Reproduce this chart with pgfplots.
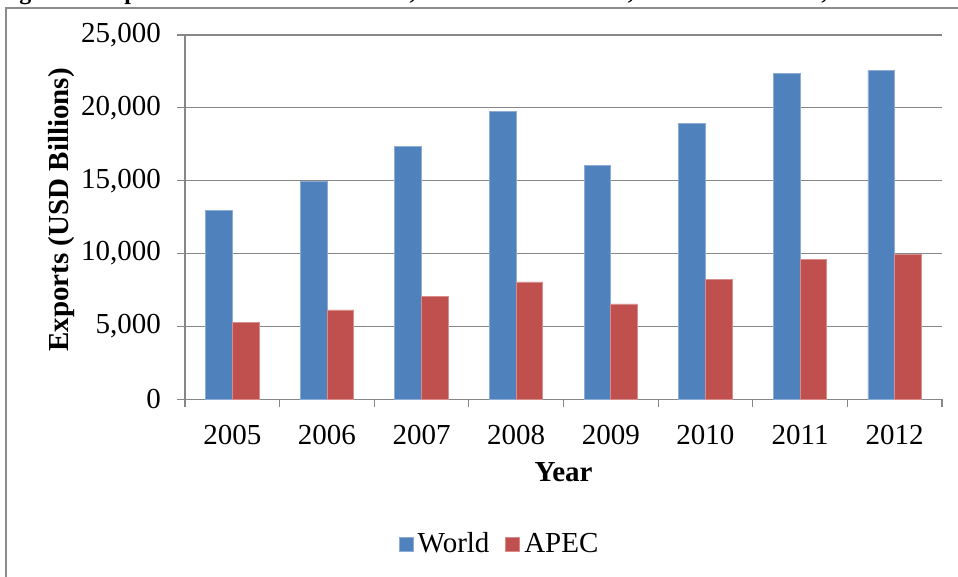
\documentclass[border=0pt]{standalone}
\usepackage{fontspec}
\setmainfont{Liberation Serif}
\usepackage{pgfplots}
\pgfplotsset{compat=1.18}
\definecolor{wblue}{HTML}{4F81BD}
\definecolor{ared}{HTML}{C0504D}
\definecolor{gridgray}{HTML}{878787}
\definecolor{framegray}{HTML}{8C8C8C}
\begin{document}
\begin{tikzpicture}
\useasboundingbox (0,0) rectangle (479pt,288.5pt);
\begin{scope}
\clip (0,0) rectangle (479pt,288.5pt);
\node[anchor=base east, font=\fontsize{12}{14}\selectfont\bfseries, inner sep=0] at (46pt,288.6pt) {Figure 1:};
\node[anchor=base west, font=\fontsize{12}{14}\selectfont\bfseries, inner sep=0] at (48pt,288.6pt) {Exports of Goods and Services, Current Prices USD, World and APEC, 2005--2012};
\end{scope}
\draw[framegray, line width=1pt] (3pt,0) -- (3pt,284.5pt) -- (479pt,284.5pt);
\begin{axis}[
  at={(92.5pt,88.85pt)}, anchor=south west,
  scale only axis, width=378.5pt, height=182.15pt,
  xmin=-0.5, xmax=7.5, ymin=0, ymax=25000,
  axis x line*=bottom, axis y line*=left,
  axis line style={gridgray, line width=0.6pt, -},
  xtick={-0.5,0.5,...,7.5},
  xticklabels={2005,2006,2007,2008,2009,2010,2011,2012,{}},
  ytick={0,5000,...,25000},
  scaled y ticks=false,
  ymajorgrids, grid style={gridgray, line width=0.6pt},
  tick align=outside,
  major tick length=4pt,
  tick style={gridgray, line width=0.6pt},
  ticklabel style={font=\fontsize{14.5}{17}\selectfont},
  xticklabel style={yshift=-5.5pt, xshift=23.66pt},
  yticklabel style={xshift=-4.5pt, /pgf/number format/fixed, /pgf/number format/1000 sep={,}},
  /pgf/number format/.cd, 1000 sep={,}, assume math mode=true,
  /pgfplots/.cd,
  xlabel={Year},
  xlabel style={font=\fontsize{14.5}{17}\selectfont\bfseries, at={(axis description cs:0.5,-0.1996)}, anchor=center},
  ylabel={Exports (USD Billions)},
  ylabel style={font=\fontsize{14.5}{17}\selectfont\bfseries, at={(axis description cs:-0.1625,0.52)}, anchor=center},
  legend columns=2,
  legend style={at={(0.417,-0.397)}, anchor=center, draw=none, fill=none,
    font=\fontsize{14.5}{17}\selectfont,
    /tikz/every even column/.append style={column sep=6pt}},
  legend image code/.code={\fill[#1] (0pt,-3.5pt) rectangle (7pt,3.5pt);},
]
\addplot[ybar, bar width=0.282, bar shift=-0.141, fill=wblue, draw=wblue!65!white, line width=0.4pt]
  coordinates {(0,12970) (1,14940) (2,17360) (3,19740) (4,16040) (5,18950) (6,22390) (7,22550)};
\addlegendentry{World}
\addplot[ybar, bar width=0.282, bar shift=0.141, fill=ared, draw=ared!65!white, line width=0.4pt]
  coordinates {(0,5300) (1,6130) (2,7070) (3,8050) (4,6540) (5,8220) (6,9590) (7,9960)};
\addlegendentry{APEC}
\end{axis}
\end{tikzpicture}
\end{document}
